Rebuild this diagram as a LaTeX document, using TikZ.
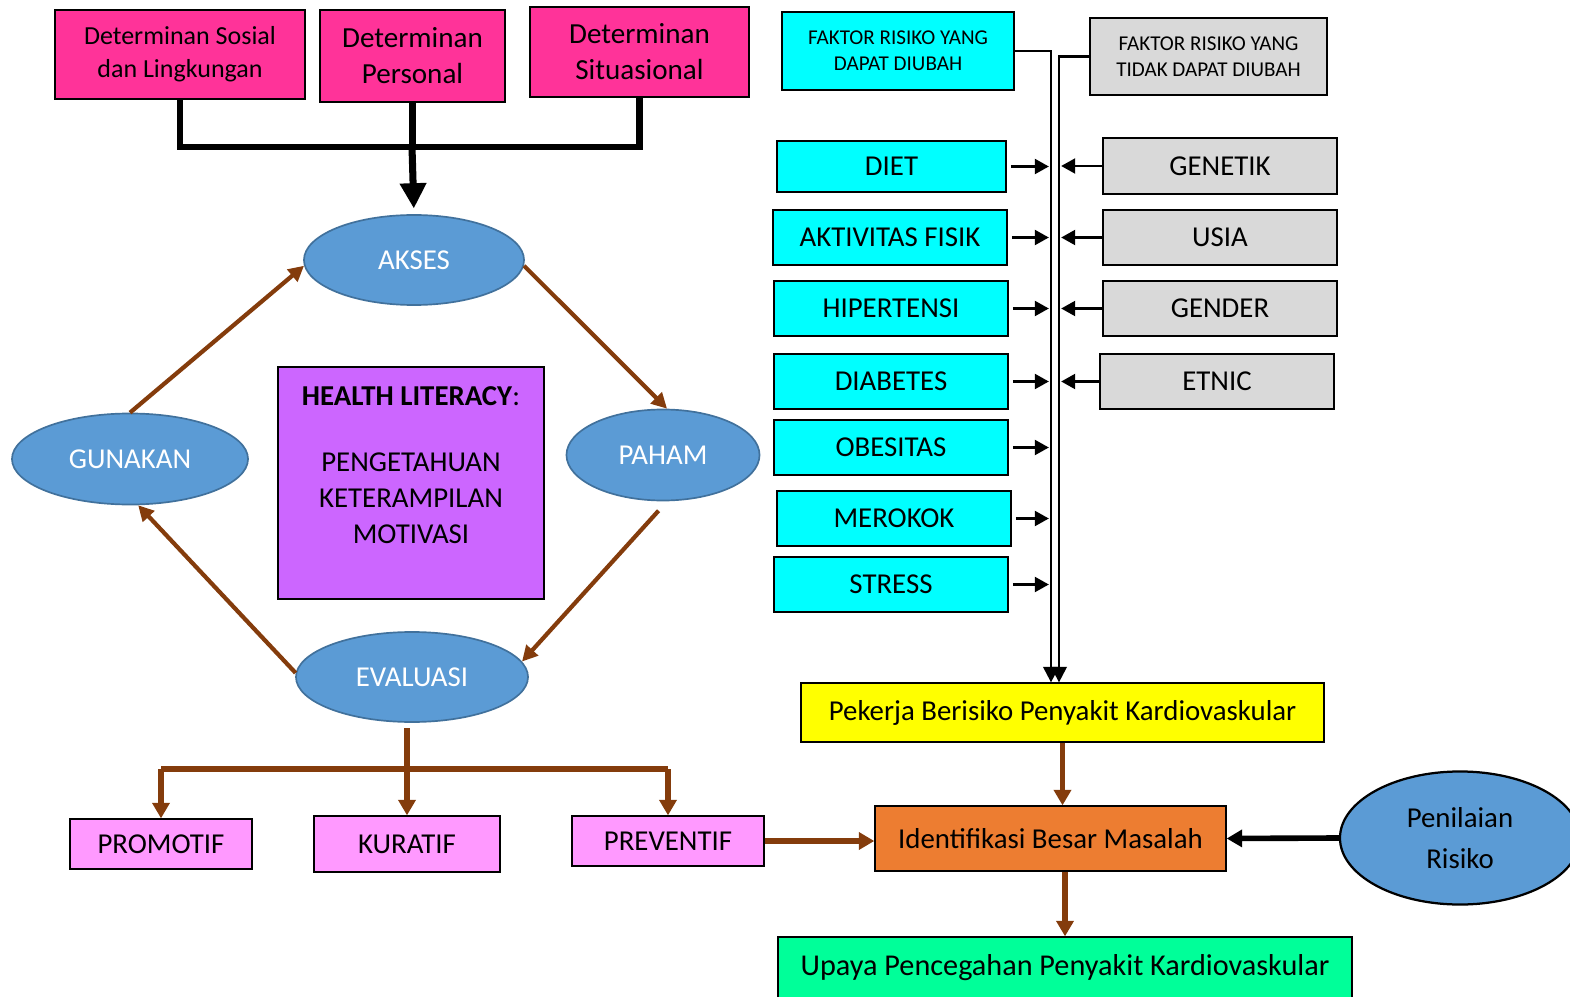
\documentclass[tikz,border=0pt]{standalone}
\usepackage{fontspec}
\setmainfont{Carlito}
\usetikzlibrary{arrows.meta,positioning,shapes.geometric,calc}

\definecolor{detpink}{HTML}{FF3399}
\definecolor{outpink}{HTML}{FF99FF}
\definecolor{hlviolet}{HTML}{CC66FF}
\definecolor{riskcyan}{HTML}{00FFFF}
\definecolor{riskgray}{HTML}{D9D9D9}
\definecolor{stepblue}{HTML}{5B9BD5}
\definecolor{stepedge}{HTML}{41719C}
\definecolor{arrbrown}{HTML}{843C0C}
\definecolor{workyellow}{HTML}{FFFF00}
\definecolor{idorange}{HTML}{ED7D31}
\definecolor{prevgreen}{HTML}{00FF99}

\newcommand{\fsz}[2]{\fontsize{#1}{#2}\selectfont}

\begin{document}
\begin{tikzpicture}[x=0.025cm, y=-0.025cm,
    box/.style={draw, line width=0.9pt, align=center, inner sep=0pt, font=\fsz{20.5}{25.5}},
    cycle/.style={ellipse, draw=stepedge, line width=1.2pt, fill=stepblue, text=white, inner sep=0pt, font=\fsz{20.5}{25.5}},
    riskL/.style={box, fill=riskcyan, minimum width=5.85cm, minimum height=1.375cm},
    riskR/.style={box, fill=riskgray, minimum width=5.85cm, minimum height=1.4cm},
    brn/.style={draw=arrbrown, line width=3.6pt},
    brnarr/.style={brn, -{Triangle[length=11pt,width=12pt]}},
    cyclearr/.style={draw=arrbrown, line width=3pt, -{Triangle[length=11pt,width=11pt]}},
    blk/.style={line width=4.5pt},
    blkarr/.style={line width=2pt, -{Triangle[length=10pt,width=10.5pt]}},
    bus/.style={line width=1.6pt, -{Triangle[length=11pt,width=11pt]}}
  ]
    \useasboundingbox (0,0) rectangle (1570,997);

    % determinan
    \node[box, fill=detpink, minimum width=6.25cm, minimum height=2.225cm, font=\fsz{18.5}{23.5}] (soc) at (180,54.5) {Determinan Sosial\\dan Lingkungan};
    \node[box, fill=detpink, minimum width=4.625cm, minimum height=2.3cm, font=\fsz{20.7}{25.6}] (pers) at (412.5,56) {Determinan\\Personal};
    \node[box, fill=detpink, minimum width=5.475cm, minimum height=2.25cm, font=\fsz{20.7}{25.6}] (sit) at (639.5,52) {Determinan\\Situasional};
    \coordinate (hub) at (412,147);
    \draw[blk] (soc.south) |- (sit.south |- hub) -- (sit.south);
    \draw[blk] (pers.south) -- (pers.south |- hub);

    % health literacy cycle
    \node[cycle, minimum width=5.5cm, minimum height=2.25cm] (akses) at (414,260) {AKSES};
    \node[cycle, minimum width=5.9cm, minimum height=2.275cm] (gunakan) at (130,459) {GUNAKAN};
    \node[cycle, minimum width=4.825cm, minimum height=2.275cm] (paham) at (663,455) {PAHAM};
    \node[cycle, minimum width=5.8cm, minimum height=2.25cm] (evaluasi) at (412,677) {EVALUASI};
    \node[box, fill=hlviolet, minimum width=6.65cm, minimum height=5.8cm, font=\fsz{20.5}{25.6}] (literacy) at (411,483) {\textbf{HEALTH LITERACY}:\\[21pt]PENGETAHUAN\\KETERAMPILAN\\MOTIVASI\\\mbox{}};
    \draw[-{Triangle[length=18pt,width=18pt]}, line width=5pt, shorten >=4pt] (hub) -- (akses.north);
    \draw[cyclearr] (gunakan.north) -- (akses.183);
    \draw[cyclearr] (akses.-3) -- (paham.85);
    \draw[cyclearr, shorten <=9pt] (paham.-85) -- (evaluasi.8);
    \draw[cyclearr] (evaluasi.178) -- (gunakan.-80);

    % upaya
    \node[box, fill=outpink, minimum width=4.55cm, minimum height=1.25cm] (promotif) at (161,844) {PROMOTIF};
    \node[box, fill=outpink, minimum width=4.65cm, minimum height=1.4cm] (kuratif) at (407,844) {KURATIF};
    \node[box, fill=outpink, minimum width=4.8cm, minimum height=1.25cm] (preventif) at (668,841) {PREVENTIF};
    \coordinate (split) at (407,769);
    \draw[brn] (promotif.north |- split) -- (preventif.north |- split);
    \draw[brnarr, shorten <=4pt] (kuratif.north |- evaluasi.south) -- (kuratif.north);
    \draw[brnarr] (promotif.north |- split) -- (promotif.north);
    \draw[brnarr] (preventif.north |- split) -- (preventif.north);

    % faktor risiko
    \node[box, fill=riskcyan, minimum width=5.8cm, minimum height=1.95cm, font=\fsz{15}{18.5}] (ubah) at (898,51) {FAKTOR RISIKO YANG\\DAPAT DIUBAH};
    \node[box, fill=riskgray, minimum width=5.925cm, minimum height=1.925cm, font=\fsz{15}{18.5}] (tidakubah) at (1208.5,56.5) {FAKTOR RISIKO YANG\\TIDAK DAPAT DIUBAH};

    \node[riskL, minimum width=5.725cm, minimum height=1.275cm] (diet) at (891.5,166.5) {DIET};
    \node[riskL] (aktivitas) at (890,237.5) {AKTIVITAS FISIK};
    \node[riskL] (hipertensi) at (891,308.5) {HIPERTENSI};
    \node[riskL] (diabetes) at (891,381.5) {DIABETES};
    \node[riskL] (obesitas) at (891,447.5) {OBESITAS};
    \node[riskL] (merokok) at (894,518.5) {MEROKOK};
    \node[riskL] (stress) at (891,584.5) {STRESS};

    \node[riskR] (genetik) at (1220,166) {GENETIK};
    \node[riskR, minimum height=1.375cm] (usia) at (1220,237.5) {USIA};
    \node[riskR, minimum height=1.375cm] (gender) at (1220,308.5) {GENDER};
    \node[riskR, minimum height=1.375cm] (etnic) at (1217,381.5) {ETNIC};

    \node[box, fill=workyellow, minimum width=13.075cm, minimum height=1.475cm] (pekerja) at (1062.5,712.5) {Pekerja Berisiko Penyakit Kardiovaskular};
    \node[box, fill=idorange, minimum width=8.775cm, minimum height=1.625cm] (identifikasi) at (1050.5,838.5) {Identifikasi Besar Masalah};
    \node[box, fill=prevgreen, minimum width=14.35cm, minimum height=1.55cm, font=\fsz{21.5}{26}] (upaya) at (1065,968) {Upaya Pencegahan Penyakit Kardiovaskular};
    \node[ellipse, draw, line width=1.6pt, fill=stepblue, align=center, inner sep=0pt, minimum width=6cm, minimum height=3.325cm, font=\fsz{20.5}{25.5}] (penilaian) at (1460,838) {Penilaian\\[3.5pt]Risiko};

    \coordinate (busL) at (1051,0);
    \coordinate (busR) at (1059,0);
    \draw[bus] (ubah.east) -| (busL |- pekerja.north);
    \draw[bus] (tidakubah.west) -| (busR |- pekerja.north);

    \draw[blkarr, shorten <=3pt, shorten >=1.5pt] (diet.east) -- (diet.east -| busL);
    \draw[blkarr, shorten <=3pt, shorten >=1.5pt] (aktivitas.east) -- (aktivitas.east -| busL);
    \draw[blkarr, shorten <=3pt, shorten >=1.5pt] (hipertensi.east) -- (hipertensi.east -| busL);
    \draw[blkarr, shorten <=3pt, shorten >=1.5pt] (diabetes.east) -- (diabetes.east -| busL);
    \draw[blkarr, shorten <=3pt, shorten >=1.5pt] (obesitas.east) -- (obesitas.east -| busL);
    \draw[blkarr, shorten <=3pt, shorten >=1.5pt] (merokok.east) -- (merokok.east -| busL);
    \draw[blkarr, shorten <=3pt, shorten >=1.5pt] (stress.east) -- (stress.east -| busL);

    \draw[blkarr, shorten >=1.5pt] (genetik.west) -- (genetik.west -| busR);
    \draw[blkarr, shorten >=1.5pt] (usia.west) -- (usia.west -| busR);
    \draw[blkarr, shorten >=1.5pt] (gender.west) -- (gender.west -| busR);
    \draw[blkarr, shorten >=1.5pt] (etnic.west) -- (etnic.west -| busR);

    \draw[brnarr] (preventif.east) -- (preventif.east -| identifikasi.west);
    \draw[brnarr] (pekerja.south) -- (pekerja.south |- identifikasi.north);
    \draw[brnarr] (identifikasi.south -| upaya.north) -- (upaya.north);
    \draw[line width=4pt, -{Triangle[length=11pt,width=12pt]}] (penilaian.west) -- (identifikasi.east);
  \end{tikzpicture}
\end{document}
